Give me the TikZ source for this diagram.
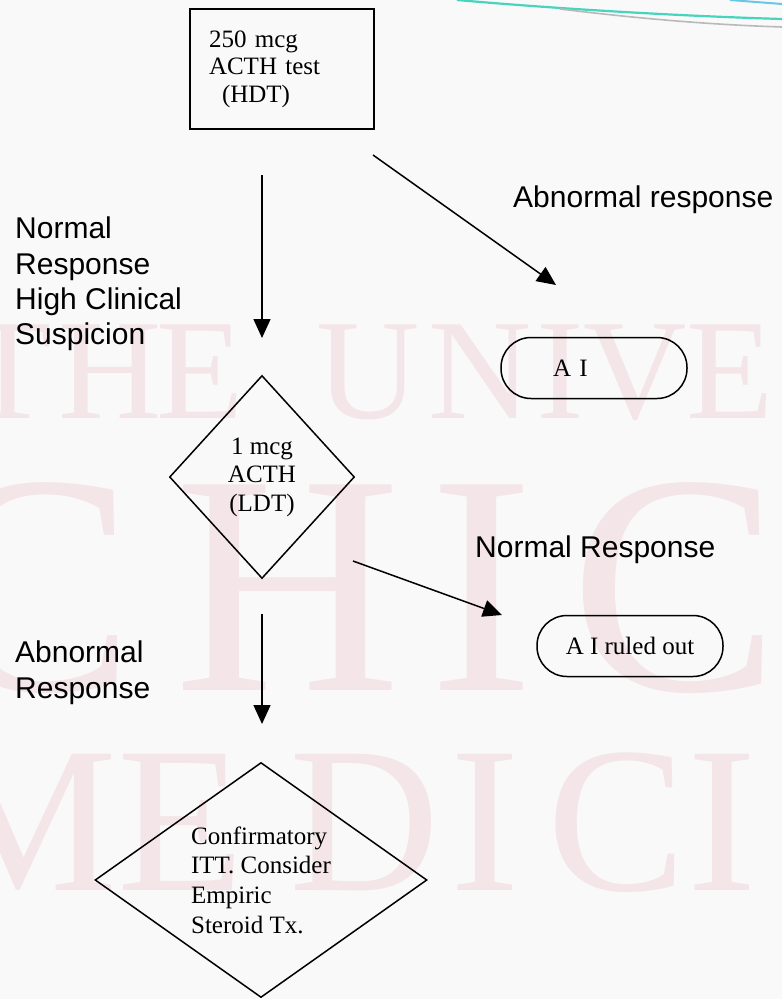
\documentclass[tikz,border=0pt]{standalone}
\usepackage{fontspec}
\setmainfont{Liberation Serif}
\setsansfont{Liberation Sans}
\usetikzlibrary{positioning,arrows.meta,shapes.geometric}

\definecolor{slidebg}{RGB}{249,249,249}
\definecolor{markpink}{RGB}{243,229,232}
\definecolor{swoosh}{RGB}{70,212,188}
\definecolor{swooshblue}{RGB}{105,198,232}
\definecolor{swooshgray}{RGB}{185,185,185}

\begin{document}
\begin{tikzpicture}[x=1pt, y=-1pt,
        testbox/.style={draw, rectangle, line width=1.8pt, minimum width=184pt, minimum height=120pt,
            font=\fontsize{25}{27.5}\selectfont},
        decision/.style={draw, diamond, line width=1.5pt, inner sep=0pt, font=\fontsize{25}{28.5}\selectfont},
        term/.style={draw, rectangle, rounded corners=30pt, line width=1.5pt, minimum width=186pt,
            minimum height=61pt, font=\fontsize{25}{27.5}\selectfont},
        lbl/.style={inner sep=0pt, align=left, font=\sffamily\fontsize{30}{35.3}\selectfont},
        flow/.style={line width=1.5pt, -{Triangle[length=19pt, width=17pt]}},
        markletter/.style={text=markpink, inner sep=0pt, anchor=base}
    ]
        % slide background
        \useasboundingbox (0,0) rectangle (782,999);
        \fill[slidebg] (0,0) rectangle (782,999);

        % watermark
        \foreach \ch/\cx in {T/8,H/110,E/200,U/368,N/480,I/560,V/635,E/730}
            \node[markletter, font=\fontsize{143}{143}\selectfont] (mark-a\cx) at (\cx,418) {\ch};
        \foreach \ch/\cx in {C/30,H/288,I/482,C/675}
            \node[markletter, font=\fontsize{314}{314}\selectfont] (mark-b\cx) at (\cx,690) {\ch};
        \foreach \ch/\cx in {M/25,E/181,D/365,I/485,C/617,I/722}
            \node[markletter, font=\fontsize{208}{208}\selectfont] (mark-c\cx) at (\cx,890) {\ch};

        % template swoosh
        \draw[swoosh, line width=2.2pt] (457,0) .. controls (560,9) and (680,16) .. (782,19);
        \draw[swooshgray, line width=1.6pt] (560,9) .. controls (650,20) and (720,25) .. (782,27);
        \draw[swooshblue, line width=2pt] (730,0) -- (782,4);

        % boxes
        \node[testbox, text width=146pt, inner xsep=19pt, align=left] (hdt) at (282,69)
            {250 mcg\\ACTH test\\\hspace*{13pt}(HDT)};
        \node[decision, minimum width=185pt, minimum height=203pt, align=center] (ldt) at (262,477)
            {1 mcg\\ACTH\\(LDT)};
        \node[decision, minimum width=332pt, minimum height=235pt, aspect=1.41, align=left,
            font=\fontsize{25}{29.7}\selectfont] (itt) at (261,880)
            {Confirmatory\\ITT. Consider\\Empiric\\Steroid Tx.};
        \node[term, text width=82pt, align=left] (ai) at (594,368) {A I};
        \node[term] (ruledout) at (630,646) {A I ruled out};

        % labels
        \node[lbl, anchor=base west] (abn-top) at (513,207) {Abnormal response};
        \node[lbl, anchor=north west] (norm-high) at (15,217) {Normal\\Response\\High Clinical\\Suspicion};
        \node[lbl, anchor=base west] (norm-mid) at (475,557) {Normal Response};
        \node[lbl, anchor=north west] (abn-low) at (15,641) {Abnormal\\Response};

        % arrows
        \coordinate (hdt-out) at (262,175);
        \coordinate (ldt-in) at (262,338);
        \coordinate (hdt-side) at (373,155);
        \coordinate (ai-in) at (556,285);
        \coordinate (ldt-side) at (353,561);
        \coordinate (out-in) at (502,615);
        \coordinate (ldt-out) at (262,614);
        \coordinate (itt-in) at (262,724);
        \draw[flow] (hdt-out) -- (ldt-in);
        \draw[flow] (hdt-side) -- (ai-in);
        \draw[flow] (ldt-side) -- (out-in);
        \draw[flow] (ldt-out) -- (itt-in);
    \end{tikzpicture}
\end{document}
